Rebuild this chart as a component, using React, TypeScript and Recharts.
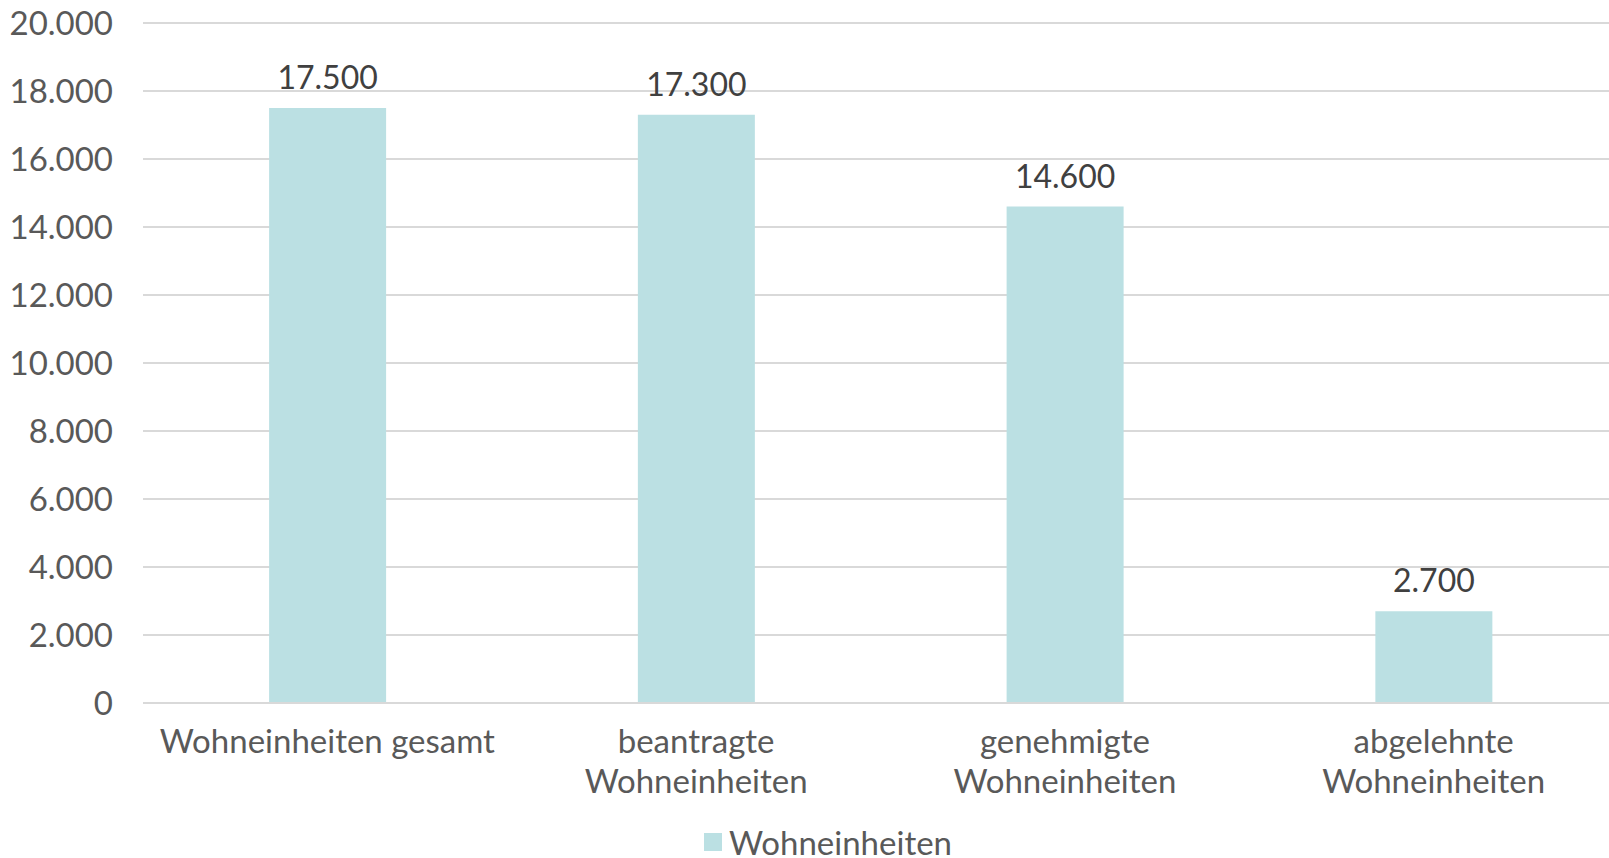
import { BarChart, Bar, XAxis, YAxis, CartesianGrid, Legend, LabelList } from "recharts";

const categories = [
  "Wohneinheiten gesamt",
  "beantragte Wohneinheiten",
  "genehmigte Wohneinheiten",
  "abgelehnte Wohneinheiten",
];
const wohneinheiten = [17500, 17300, 14600, 2700];
const yTicks = [0, 2000, 4000, 6000, 8000, 10000, 12000, 14000, 16000, 18000, 20000];
const seriesName = "Wohneinheiten";

const data = categories.map((name, i) => ({ name, value: wohneinheiten[i] }));

const FONT = "Lato, 'Open Sans', sans-serif";
const GRAY = "#595959";
const BAR = "#BBE0E3";
const FS = 33;

const fmt = (v: number) => String(v).replace(/\B(?=(\d{3})+(?!\d))/g, ".");

// simple greedy word wrap measured on a canvas
function wrap(label: string, maxWidth: number): string[] {
  const ctx = document.createElement("canvas").getContext("2d");
  if (!ctx) return [label];
  ctx.font = `${FS}px ${FONT}`;
  const lines: string[] = [];
  let cur = "";
  for (const w of label.split(" ")) {
    const next = cur ? cur + " " + w : w;
    if (cur && ctx.measureText(next).width > maxWidth) {
      lines.push(cur);
      cur = w;
    } else {
      cur = next;
    }
  }
  if (cur) lines.push(cur);
  return lines;
}

function CategoryTick({ x, y, payload }: any) {
  const lines = wrap(payload.value, 350);
  return (
    <text x={x} y={y + 42} textAnchor="middle" fontSize={FS} fontFamily={FONT} fill={GRAY}>
      {lines.map((l, i) => (
        <tspan key={i} x={x} dy={i === 0 ? 0 : 40}>
          {l}
        </tspan>
      ))}
    </text>
  );
}

function LegendContent() {
  return (
    <div
      style={{
        display: "flex",
        justifyContent: "center",
        alignItems: "center",
        paddingLeft: 38,
        marginTop: -6,
        fontFamily: FONT,
        fontSize: FS,
        color: GRAY,
      }}
    >
      <span style={{ width: 18, height: 18, background: BAR, display: "inline-block", marginRight: 7 }} />
      <span>{seriesName}</span>
    </div>
  );
}

export default function App() {
  return (
    <div
      style={{
        position: "fixed",
        left: 0,
        top: 0,
        width: 1609,
        height: 858,
        overflow: "hidden",
        background: "#fff",
      }}
    >
      <BarChart
        width={1618}
        height={858}
        data={data}
        margin={{ top: 23, right: 0, bottom: 0, left: 0 }}
        barCategoryGap="34.2%"
      >
        <CartesianGrid vertical={false} stroke="#D9D9D9" strokeWidth={2} />
        <XAxis
          dataKey="name"
          axisLine={{ stroke: "#D9D9D9", strokeWidth: 2 }}
          tickLine={false}
          height={125}
          interval={0}
          tick={<CategoryTick />}
        />
        <YAxis
          width={143}
          domain={[0, 20000]}
          ticks={yTicks}
          tickFormatter={fmt}
          axisLine={false}
          tickLine={false}
          tickSize={0}
          tickMargin={30}
          tick={{ fill: GRAY, fontSize: FS, fontFamily: FONT }}
        />
        <Legend verticalAlign="bottom" height={30} content={<LegendContent />} />
        <Bar dataKey="value" name={seriesName} fill={BAR} isAnimationActive={false}>
          <LabelList
            dataKey="value"
            position="top"
            offset={19}
            formatter={(v: any) => fmt(Number(v))}
            style={{ fill: "#404040", fontSize: 32, fontFamily: FONT }}
          />
        </Bar>
      </BarChart>
    </div>
  );
}
